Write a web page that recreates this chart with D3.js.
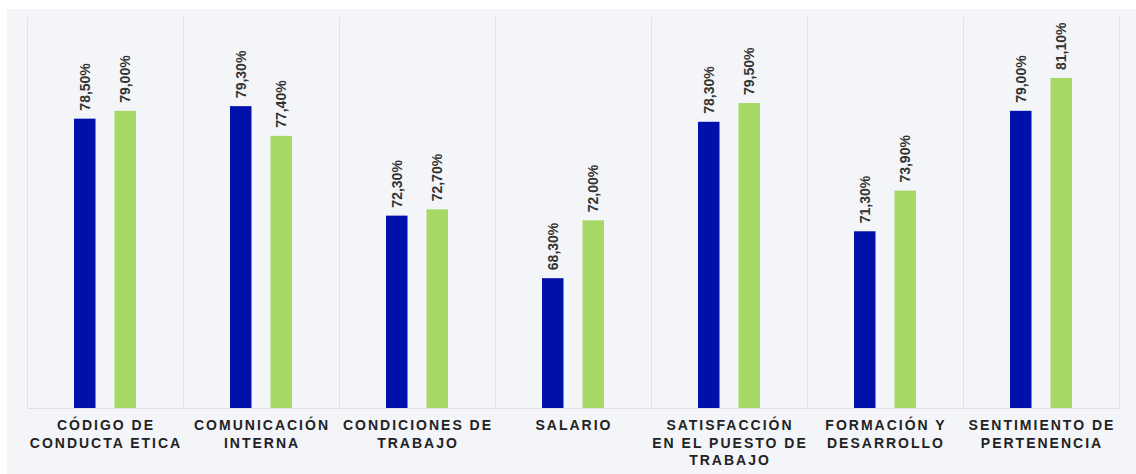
<!DOCTYPE html>
<html>
<head>
<meta charset="utf-8">
<script src="https://cdn.jsdelivr.net/npm/d3@7"></script>
<style>
  html, body { margin: 0; padding: 0; background: #ffffff; }
  svg { display: block; }
  text { font-family: "Liberation Sans", Arial, sans-serif; }
</style>
</head>
<body>
<svg id="chart" width="1136" height="474"></svg>
<script>
const categories = [
  ["CÓDIGO DE", "CONDUCTA ETICA"],
  ["COMUNICACIÓN", "INTERNA"],
  ["CONDICIONES DE", "TRABAJO"],
  ["SALARIO"],
  ["SATISFACCIÓN", "EN EL PUESTO DE", "TRABAJO"],
  ["FORMACIÓN Y", "DESARROLLO"],
  ["SENTIMIENTO DE", "PERTENENCIA"]
];
const seriesBlue = [78.5, 79.3, 72.3, 68.3, 78.3, 71.3, 79.0];
const seriesGreen = [79.0, 77.4, 72.7, 72.0, 79.5, 73.9, 81.1];
const seriesColors = ["#0011aa", "#a7d866"];
const yDomain = [60, 85];

(function () {
const svg = d3.select("#chart");
svg.append("rect").attr("x", 7).attr("y", 9).attr("width", 1129).attr("height", 465).attr("fill", "#f4f5f9");

const mLeft = 27, mRight = 1119, mTop = 17, mBottom = 408;
const keys = categories.map((c, i) => i);
const x0 = d3.scaleBand().domain(keys).range([mLeft, mRight]).padding(0);
const x1 = d3.scaleBand().domain([0, 1]).range([0, x0.bandwidth()]).paddingInner(0.469).paddingOuter(1.16);
const y = d3.scaleLinear().domain(yDomain).range([mBottom, mTop]);

// vertical gridlines at category boundaries
const bounds = keys.map(k => x0(k)).concat([mRight]);
svg.append("g").selectAll("line").data(bounds).join("line")
  .attr("x1", d => d + 0.5).attr("x2", d => d + 0.5)
  .attr("y1", mTop).attr("y2", mBottom)
  .attr("stroke", "#e1e2e6").attr("stroke-width", 1);

// baseline
svg.append("line").attr("x1", mLeft).attr("x2", mRight + 1).attr("y1", mBottom + 0.5).attr("y2", mBottom + 0.5)
  .attr("stroke", "#e1e2e6").attr("stroke-width", 1);

const data = keys.map(i => ({ i, vals: [seriesBlue[i], seriesGreen[i]] }));
const fmt = v => v.toFixed(2).replace(".", ",") + "%";

const groups = svg.append("g").selectAll("g").data(data).join("g")
  .attr("transform", d => `translate(${x0(d.i)},0)`);

groups.selectAll("rect").data(d => d.vals.map((v, s) => ({ v, s }))).join("rect")
  .attr("x", d => x1(d.s))
  .attr("width", x1.bandwidth())
  .attr("y", d => y(d.v))
  .attr("height", d => mBottom - y(d.v))
  .attr("fill", d => seriesColors[d.s]);

groups.selectAll("text.val").data(d => d.vals.map((v, s) => ({ v, s }))).join("text")
  .attr("class", "val")
  .attr("transform", d => `translate(${x1(d.s) + x1.bandwidth() / 2 + 5},${y(d.v) - 8}) rotate(-90)`)
  .attr("text-anchor", "start")
  .attr("font-size", 14)
  .attr("font-weight", "bold")
  .attr("fill", "#333333")
  .text(d => fmt(d.v));

// category labels
const cat = svg.append("g").selectAll("text").data(data).join("text")
  .attr("x", d => x0(d.i) + x0.bandwidth() / 2 + 1)
  .attr("y", 430)
  .attr("text-anchor", "middle")
  .attr("font-size", 14)
  .attr("font-weight", "bold")
  .attr("letter-spacing", "2px")
  .attr("fill", "#222222");
cat.selectAll("tspan").data(d => categories[d.i]).join("tspan")
  .attr("x", function () { return d3.select(this.parentNode).attr("x"); })
  .attr("dy", (d, j) => j === 0 ? 0 : 17.5)
  .text(d => d);
})();
</script>
</body>
</html>
